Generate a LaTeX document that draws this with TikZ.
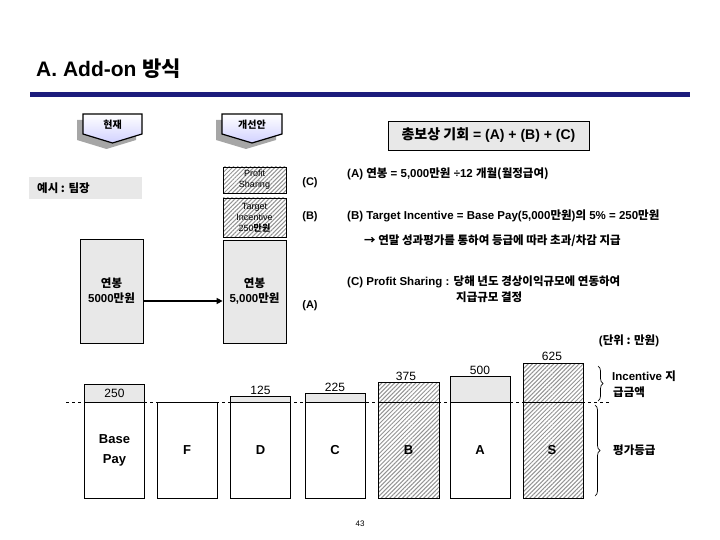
\documentclass[tikz,border=0pt]{standalone}
\usepackage{fontspec}
\setmainfont{Liberation Sans}
\newfontfamily\kr{Noto Sans CJK KR}
\newcommand\K[1]{{\kr #1}}
\usetikzlibrary{patterns.meta,decorations.pathreplacing,arrows.meta}
\definecolor{navy}{HTML}{1C1C7C}
\definecolor{lgray}{HTML}{E8E8E8}
\tikzset{
  box/.style={draw=black,line width=0.8pt,fill=lgray},
  wbox/.style={draw=black,line width=0.8pt,fill=white},
  hatch/.style={draw=black,line width=0.8pt,pattern={Lines[angle=45,distance=3pt,line width=1pt]},pattern color=gray!85},
  txt/.style={inner sep=0pt,anchor=west,font=\bfseries\fontsize{11.5}{13}\selectfont},
  grade/.style={inner sep=0pt,font=\bfseries\fontsize{13}{15}\selectfont},
  num/.style={inner sep=0pt,font=\fontsize{12}{14}\selectfont},
  lbl/.style={inner sep=0pt,font=\bfseries\fontsize{11}{13}\selectfont},
  brc/.style={decorate,decoration={brace,amplitude=5pt},line width=0.7pt},
}
\begin{document}
\begin{tikzpicture}[x=1pt,y=-1pt]
\useasboundingbox (0,0) rectangle (720,540);
% title
\node[inner sep=0pt,anchor=base west,font=\bfseries\fontsize{21}{24}\selectfont] (title) at (36,77) {A. Add-on \K{방식}};
\fill[navy] (30,92.5) rectangle (690,97.5);
% tabs
\foreach \xa/\xb/\nm/\tx in {83/142/tabA/현재,222/282/tabB/개선안}{
  \pgfmathsetmacro\xm{(\xa+\xb)/2}
  \fill[gray!70] (\xa-6,120) -- (\xb-6,120) -- (\xb-6,140) -- (\xm-6,149) -- (\xa-6,140) -- cycle;
  \shade[top color=white,bottom color=blue!18,draw=black,line width=1.2pt] (\xa,114) -- (\xb,114) -- (\xb,134) -- (\xm,143) -- (\xa,134) -- cycle;
  \node[inner sep=0pt,font=\bfseries\fontsize{10}{11}\selectfont] (\nm) at (\xm,125) {\K{\tx}};
}
% total box
\node[box,minimum width=201pt,minimum height=29pt,inner sep=0pt,font=\bfseries\fontsize{14}{16}\selectfont] (total) at (488.5,135.5) {\K{총보상 기회} = (A) + (B) + (C)};
% explanation text
\node[txt] (ta) at (347,174) {(A) \K{연봉} = 5,000\K{만원} ÷12 \K{개월(월정급여)}};
\node[txt] (tb) at (347,216) {(B) Target Incentive = Base Pay(5,000\K{만원})\K{의} 5\% = 250\K{만원}};
\node[txt] (tb2) at (364,241) {\K{→ 연말 성과평가를 통하여 등급에 따라 초과/차감 지급}};
\node[txt] (tc) at (347,282) {(C) Profit Sharing : \K{당해 년도 경상이익규모에 연동하여}};
\node[txt] (tc2) at (456,297) {\K{지급규모 결정}};
% example label
\fill[lgray] (29,177) rectangle (142,199);
\node[txt] (ex) at (37,188) {\K{예시 : 팀장}};
% current / new salary
\node[box,minimum width=63pt,minimum height=104pt,inner sep=0pt,align=center,font=\bfseries\fontsize{11.5}{15}\selectfont] (cur) at (111.5,291) {\K{연봉}\\5000\K{만원}};
\node[box,minimum width=63pt,minimum height=103pt,inner sep=0pt,align=center,font=\bfseries\fontsize{11.5}{15}\selectfont] (new) at (254.5,291.5) {\K{연봉}\\5,000\K{만원}};
\node[hatch,minimum width=63pt,minimum height=39pt,inner sep=0pt] (ti) at (254.5,217.5) {};
\node[align=center,inner sep=0pt,font=\fontsize{9}{11}\selectfont] at (ti) {Target\\Incentive\\250\K{\bfseries 만원}};
\node[hatch,minimum width=63pt,minimum height=26pt,inner sep=0pt] (ps) at (254.5,180) {};
\node[align=center,inner sep=0pt,font=\fontsize{9}{11}\selectfont] at (ps) {Profit\\Sharing};
\node[lbl] (lc) at (310,183) {(C)};
\node[lbl] (lb) at (310,217) {(B)};
\node[lbl] (la) at (310,306) {(A)};
\draw[line width=2pt,-{Triangle[length=6pt,width=6pt]}] (cur.east |- 0,301) -- (new.west |- 0,301);
% unit
\node[lbl,font=\bfseries\fontsize{11.5}{13}\selectfont] (unit) at (629,341) {(\K{단위 : 만원})};
% bottom chart
\draw[dashed,line width=0.7pt] (66,402) -- (610,402);
\node[box,minimum width=60pt,minimum height=18pt,inner sep=0pt] (bpt) at (114.5,393) {};
\node[num] at (bpt) {250};
\node[wbox,minimum width=60pt,minimum height=96pt,inner sep=0pt,align=center,font=\bfseries\fontsize{13}{20}\selectfont] (bp) at (114.5,450) {Base\\Pay};
\node[wbox,minimum width=60pt,minimum height=96pt,inner sep=0pt] (gF) at (187,450) {};
\node[grade] at (gF) {F};
% D
\node[box,minimum width=60pt,minimum height=6pt,inner sep=0pt] (dT) at (260.5,399) {};
\node[wbox,minimum width=60pt,minimum height=96pt,inner sep=0pt] (gD) at (260.5,450) {};
\node[grade] at (gD) {D};
\node[num] at (260.5,390) {125};
% C
\node[box,minimum width=60pt,minimum height=9pt,inner sep=0pt] (cT) at (335,397.5) {};
\node[wbox,minimum width=60pt,minimum height=96pt,inner sep=0pt] (gC) at (335,450) {};
\node[grade] at (gC) {C};
\node[num] at (335,387) {225};
% B
\node[hatch,minimum width=61pt,minimum height=116pt,inner sep=0pt] (gB) at (408.5,440) {};
\node[grade] at (408.5,450) {B};
\node[num] at (406,376) {375};
% A
\node[box,minimum width=60pt,minimum height=26pt,inner sep=0pt] (aT) at (480,389) {};
\node[wbox,minimum width=60pt,minimum height=96pt,inner sep=0pt] (gA) at (480,450) {};
\node[grade] at (gA) {A};
\node[num] at (480,370) {500};
% S
\node[hatch,minimum width=60pt,minimum height=135pt,inner sep=0pt] (gS) at (553,430.5) {};
\node[grade] at (552,450) {S};
\draw[line width=0.7pt] (gS.west |- 0,402) -- (gS.east |- 0,402);
\draw[line width=0.7pt] (gB.west |- 0,402) -- (gB.east |- 0,402);
\node[num] at (552,356) {625};
% braces
\coordinate (u1) at (598,366);
\coordinate (u2) at (598,401);
\coordinate (l1) at (595,405);
\coordinate (l2) at (595,496);
\draw[brc] (u1) -- (u2);
\draw[brc] (l1) -- (l2);
\node[txt] (inc) at (612,376) {Incentive \K{지}};
\node[txt] (inc2) at (613,392) {\K{급금액}};
\node[txt] (grd) at (613,450) {\K{평가등급}};
% page number
\node[inner sep=0pt,font=\fontsize{8}{9}\selectfont] (pg) at (360,524) {43};
\end{tikzpicture}
\end{document}
